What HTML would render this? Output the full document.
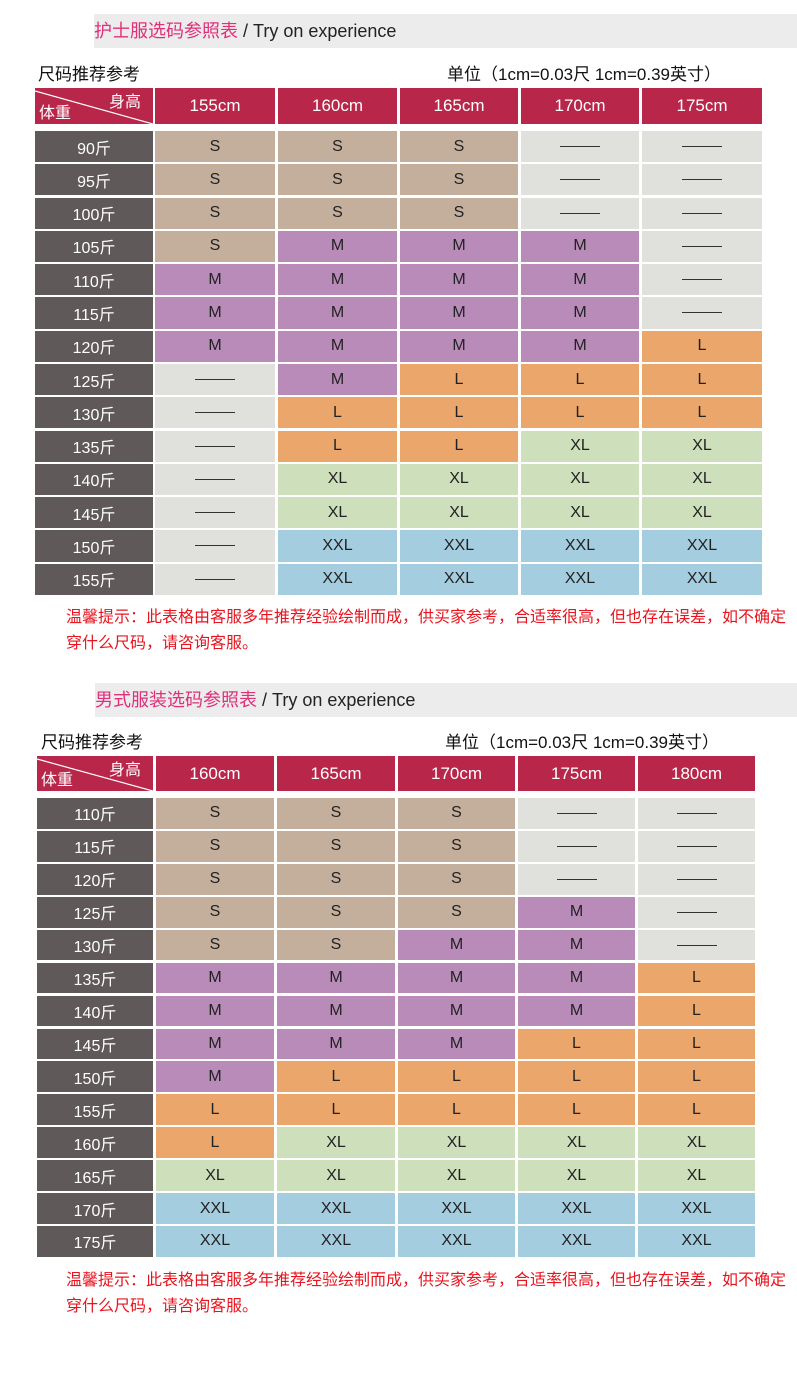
<!DOCTYPE html>
<html><head><meta charset="utf-8">
<style>
body{margin:0;width:797px;height:1388px;background:#fff;position:relative;overflow:hidden;font-family:"Liberation Sans","Noto Sans CJK SC",sans-serif;}
.abs{position:absolute;}
.title{background:#ececec;font-size:18px;line-height:34px;color:#222;}
.title span{color:#e0307a;}
.cell{position:absolute;display:flex;align-items:center;justify-content:center;font-size:16px;color:#222;}
.hd{background:#b8264a;color:#fff;font-size:17px;}
.wt{background:#5f5a59;color:#fff;font-size:16px;}
.dash{display:inline-block;width:40px;border-top:1.5px solid #333;}
.note{color:#e8141e;font-size:16px;line-height:26px;}
.sub{font-size:17px;color:#111;}
</style></head><body>
<div class="abs title" style="left:94px;top:14px;width:703px;height:34px;"><span>护士服选码参照表</span> / Try on experience</div>
<div class="abs sub" style="left:38px;top:60px;">尺码推荐参考</div>
<div class="abs sub" style="left:447px;top:60px;">单位（1cm=0.03尺 1cm=0.39英寸）</div>
<div id="t1"></div>
<div class="abs note" style="left:66px;top:605px;width:720px;">温馨提示：此表格由客服多年推荐经验绘制而成，供买家参考，合适率很高，但也存在误差，如不确定穿什么尺码，请咨询客服。</div>

<div class="abs title" style="left:95px;top:683px;width:702px;height:34px;"><span>男式服装选码参照表</span> / Try on experience</div>
<div class="abs sub" style="left:41px;top:728px;">尺码推荐参考</div>
<div class="abs sub" style="left:445px;top:728px;">单位（1cm=0.03尺 1cm=0.39英寸）</div>
<div id="t2"></div>
<div class="abs note" style="left:66px;top:1268px;width:720px;">温馨提示：此表格由客服多年推荐经验绘制而成，供买家参考，合适率很高，但也存在误差，如不确定穿什么尺码，请咨询客服。</div>

<script>
const heights1=["155cm","160cm","165cm","170cm","175cm"];
const weights1=["90斤","95斤","100斤","105斤","110斤","115斤","120斤","125斤","130斤","135斤","140斤","145斤","150斤","155斤"];
const sizes1=[
"S S S - -","S S S - -","S S S - -","S M M M -","M M M M -","M M M M -","M M M M L",
"- M L L L","- L L L L","- L L XL XL","- XL XL XL XL","- XL XL XL XL","- XXL XXL XXL XXL","- XXL XXL XXL XXL"];
const heights2=["160cm","165cm","170cm","175cm","180cm"];
const weights2=["110斤","115斤","120斤","125斤","130斤","135斤","140斤","145斤","150斤","155斤","160斤","165斤","170斤","175斤"];
const sizes2=[
"S S S - -","S S S - -","S S S - -","S S S M -","S S M M -","M M M M L","M M M M L",
"M M M L L","M L L L L","L L L L L","L XL XL XL XL","XL XL XL XL XL","XXL XXL XXL XXL XXL","XXL XXL XXL XXL XXL"];
const colors={S:"#c4ae9c","M":"#b98bb9",L:"#eba66b",XL:"#cde0bb",XXL:"#a5cde0","-":"#e0e0dc"};

function build(id,cols,hdTop,hdH,rowTop,rowEnd,heights,weights,sizes,prefix){
  const root=document.getElementById(id);
  const n=weights.length, pitch=(rowEnd-rowTop)/n;
  function mk(x,y,w,h,cls,name,txt){
    const d=document.createElement('div');
    d.className='cell '+cls;
    
    
    d.style.left=x+'px';d.style.top=y+'px';d.style.width=w+'px';d.style.height=h+'px';
    if(txt!==undefined)d.textContent=txt;
    root.appendChild(d);return d;
  }
  // corner
  const c=mk(cols[0][0],hdTop,cols[0][1]-cols[0][0],hdH,'hd',prefix+'-corner-header');
  c.innerHTML='<svg width="100%" height="100%" style="position:absolute;left:0;top:0"><line x1="0" y1="3" x2="100%" y2="100%" stroke="#fff" stroke-width="1.2"/></svg><span style="position:absolute;right:12px;top:0;font-size:16px">身高</span><span style="position:absolute;left:4px;bottom:1px;font-size:16px">体重</span>';
  heights.forEach((h,i)=>{const cc=cols[i+1];mk(cc[0],hdTop,cc[1]-cc[0],hdH,'hd',prefix+'-height-header',h);});
  weights.forEach((w,r)=>{
    const y=rowTop+r*pitch, hh=pitch-2.2;
    mk(cols[0][0],y,cols[0][1]-cols[0][0],hh,'wt',prefix+'-weight-label',w);
    sizes[r].split(' ').forEach((s,i)=>{
      const cc=cols[i+1];
      const d=mk(cc[0],y,cc[1]-cc[0],hh,'',prefix+'-size-cell');
      d.style.background=colors[s];
      if(s==='-'){d.innerHTML='<span class="dash"></span>';}else d.textContent=s;
    });
  });
}
build('t1',[[35,153],[155,275],[278,397],[400,518],[521,639],[642,762]],88,36,131,597,heights1,weights1,sizes1,'nurse');
build('t2',[[37,153],[156,274],[277,395],[398,515],[518,635],[638,755]],756,35,798,1259,heights2,weights2,sizes2,'men');
</script>
</body></html>
